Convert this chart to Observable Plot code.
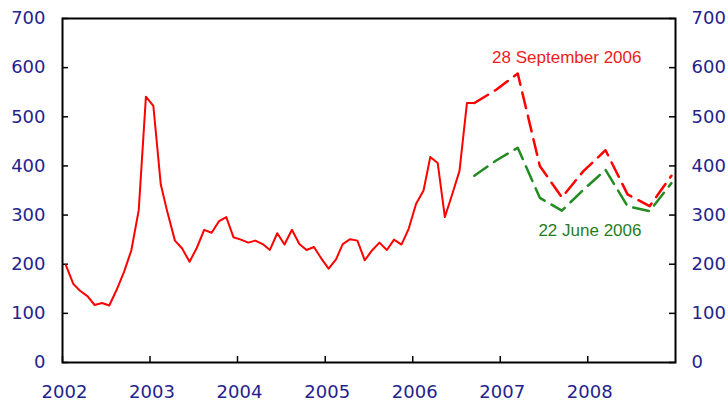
<!DOCTYPE html>
<html>
<head>
<meta charset="utf-8">
<script src="https://cdn.jsdelivr.net/npm/d3@7"></script>
<script src="https://cdn.jsdelivr.net/npm/@observablehq/plot@0.6"></script>
<style>
  html, body { margin: 0; padding: 0; background: #fff; }
</style>
</head>
<body>
<div id="chart"></div>
<script>
// ---- Data ----
const actualMonths = [
  "2002-01","2002-02","2002-03","2002-04","2002-05","2002-06","2002-07","2002-08","2002-09","2002-10","2002-11","2002-12",
  "2003-01","2003-02","2003-03","2003-04","2003-05","2003-06","2003-07","2003-08","2003-09","2003-10","2003-11","2003-12",
  "2004-01","2004-02","2004-03","2004-04","2004-05","2004-06","2004-07","2004-08","2004-09","2004-10","2004-11","2004-12",
  "2005-01","2005-02","2005-03","2005-04","2005-05","2005-06","2005-07","2005-08","2005-09","2005-10","2005-11","2005-12",
  "2006-01","2006-02","2006-03","2006-04","2006-05","2006-06","2006-07","2006-08","2006-09"
];
const actualValues = [
  198,160,146,135,117,121,116,148,185,228,310,541,
  522,362,305,248,232,205,233,270,264,287,296,255,
  250,244,248,241,229,263,240,270,241,229,235,212,
  191,210,241,251,248,208,228,244,229,250,240,272,
  323,350,418,406,296,343,390,528,528
];
const forecastMonths = ["2006-09","2006-12","2007-03","2007-06","2007-09","2007-12","2008-03","2008-06","2008-09","2008-12"];
const forecastSep06 = [528,555,588,400,336,390,432,342,318,380];
const forecastJun06 = [380,411,437,335,309,352,392,318,308,365];

const yearTicks = [2002,2003,2004,2005,2006,2007,2008];
const valueTicks = [0,100,200,300,400,500,600,700];

const annotationLabels = ["28 September 2006", "22 June 2006"];

// ---- Build tables ----
const mid = s => new Date(Date.UTC(+s.slice(0,4), +s.slice(5,7) - 1, 15));
const actual = actualMonths.map((m, i) => ({date: mid(m), value: actualValues[i]}));
const sep = forecastMonths.map((m, i) => ({date: mid(m), value: forecastSep06[i]}));
const jun = forecastMonths.map((m, i) => ({date: mid(m), value: forecastJun06[i]}));
const yearDates = yearTicks.map(y => new Date(Date.UTC(y, 0, 1)));

const W = 728, H = 408, mL = 62, mR = 53, mT = 18, mB = 46;
const plotW = W - mL - mR, plotH = H - mT - mB;
const axisColor = "#23238e";
const RED = "#ff0000", GREEN = "#228b22";

const chart = Plot.plot({
  width: W,
  height: H,
  marginLeft: mL,
  marginRight: mR,
  marginTop: mT,
  marginBottom: mB,
  style: {fontFamily: "DejaVu Sans", fontSize: "18px", background: "#fff", color: axisColor},
  x: {type: "utc", domain: [new Date(Date.UTC(2002,0,1)), new Date(Date.UTC(2009,0,1))], axis: null, label: null},
  y: {domain: [0, 700], axis: null, label: null},
  marks: [
    Plot.axisY(valueTicks, {anchor: "left", tickSize: 0, tickPadding: 17, fontSize: 18, fill: axisColor, label: null}),
    Plot.axisY(valueTicks, {anchor: "right", tickSize: 0, tickPadding: 16, fontSize: 18, fill: axisColor, label: null}),
    Plot.axisX(yearDates, {anchor: "bottom", tickSize: 0, tickPadding: 23, fontSize: 18, fill: axisColor, dx: 2, tickFormat: d => String(d.getUTCFullYear()), label: null}),
    // inward tick marks
    Plot.tickY(valueTicks, {y: d => d, insetRight: plotW - 6, stroke: "#000", strokeWidth: 1.5}),
    Plot.tickY(valueTicks, {y: d => d, insetLeft: plotW - 6, stroke: "#000", strokeWidth: 1.5}),
    Plot.tickX(yearDates, {x: d => d, insetTop: plotH - 6, stroke: "#000", strokeWidth: 1.5}),
    // series
    Plot.line(jun, {x: "date", y: "value", stroke: GREEN, strokeWidth: 2.5, strokeDasharray: "16,8"}),
    Plot.line(sep, {x: "date", y: "value", stroke: RED, strokeWidth: 2.5, strokeDasharray: "16,8"}),
    Plot.line(actual, {x: "date", y: "value", stroke: RED, strokeWidth: 2}),
    // annotations
    Plot.text([annotationLabels[0]], {x: () => new Date(Date.UTC(2008,7,12)), y: () => 621, text: d => d, textAnchor: "end", fill: "#ee1c1c", fontSize: 17, fontFamily: "Liberation Sans"}),
    Plot.text([annotationLabels[1]], {x: () => new Date(Date.UTC(2008,7,12)), y: () => 269, text: d => d, textAnchor: "end", fill: "#1e7e1e", fontSize: 17, fontFamily: "Liberation Sans"}),
    Plot.frame({stroke: "#000", strokeWidth: 2})
  ]
});
document.getElementById("chart").appendChild(chart);
</script>
</body>
</html>
